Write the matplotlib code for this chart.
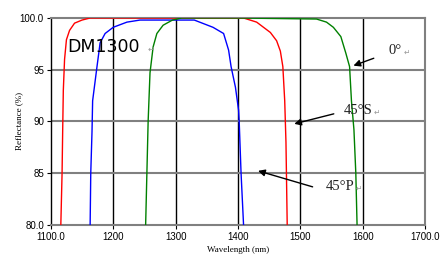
import matplotlib
matplotlib.use("Agg")
import matplotlib.pyplot as plt

# 0 deg (green)
wl_0 = [1252, 1254, 1256, 1259, 1264, 1270, 1280, 1295, 1310, 1400, 1526,
        1542, 1553, 1565, 1573, 1579, 1582, 1586, 1589, 1591]
r_0 = [80, 85, 90, 94.7, 97.2, 98.5, 99.3, 99.8, 100, 100, 99.9,
       99.6, 99.1, 98.2, 96.6, 95.3, 92, 89.2, 85, 80]

# 45 deg S (red)
wl_s = [1116, 1118, 1119, 1120, 1122, 1125, 1130, 1138, 1150, 1163, 1300,
        1409, 1430, 1452, 1462, 1468, 1472, 1475, 1477, 1479]
r_s = [80, 85, 89.2, 93, 96, 97.9, 98.8, 99.5, 99.8, 100, 100,
       100, 99.6, 98.6, 97.8, 96.8, 95.3, 92, 88, 80]

# 45 deg P (blue)
wl_p = [1163, 1164, 1166, 1167, 1174, 1179, 1187, 1200, 1222, 1243, 1330,
        1360, 1377, 1385, 1389, 1396, 1401, 1402, 1405, 1409]
r_p = [80, 85, 89, 92, 95.3, 97.6, 98.5, 99.1, 99.6, 99.8, 99.8,
       99.1, 98.5, 96.9, 95.3, 93.3, 91.1, 90, 85, 80]

xticks = [1100, 1200, 1300, 1400, 1500, 1600, 1700]
xlabels = ["1100.0", "1200", "1300", "1400", "1500", "1600", "1700.0"]
yticks = [80, 85, 90, 95, 100]
ylabels = ["80.0", "85", "90", "95", "100.0"]

fig = plt.figure(figsize=(4.46, 2.57), dpi=100)
ax = fig.add_axes([0.114, 0.125, 0.839, 0.805])

for x in xticks[1:-1]:
    ax.axvline(x, color="black", lw=1, zorder=1)
for y in yticks[1:-1]:
    ax.axhline(y, color="#808080", lw=1.5, zorder=1)

ax.plot(wl_s, r_s, color="red", lw=1, zorder=3)
ax.plot(wl_p, r_p, color="blue", lw=1, zorder=3)
ax.plot(wl_0, r_0, color="green", lw=1, zorder=3)

ax.set_xlim(1100, 1700)
ax.set_ylim(80, 100)
ax.set_xticks(xticks)
ax.set_xticklabels(xlabels, family="Liberation Sans", fontsize=7)
ax.set_yticks(yticks)
ax.set_yticklabels(ylabels, family="Liberation Sans", fontsize=7)
ax.tick_params(length=3, width=0.8, color="black", pad=2)

for s in ["top", "right", "bottom"]:
    ax.spines[s].set_color("#808080")
    ax.spines[s].set_linewidth(1.5)
ax.spines["left"].set_color("black")
ax.spines["left"].set_linewidth(1)

ax.set_xlabel("Wavelength (nm)", family="Liberation Serif", fontsize=6.5, labelpad=3)
ax.set_ylabel("Reflectance (%)", family="Liberation Serif", fontsize=6.5)
ax.yaxis.set_label_coords(-0.075, 0.5)

ax.text(1127, 97.2, "DM1300", fontsize=12.5, va="center", ha="left")
ax.text(1255, 97.0, "\u21b5", fontsize=6, color="#999999", va="center")

arrow = dict(arrowstyle="-|>", color="black", lw=1, mutation_scale=10)
notes = [("0°", (1581, 95.3), (1622, 96.2), (1642, 96.9)),
         ("45°S", (1486, 89.7), (1558, 90.8), (1569, 91.1)),
         ("45°P", (1428, 85.3), (1524, 83.6), (1540, 83.7))]
for label, tip, tail, pos in notes:
    ax.annotate("", xy=tip, xytext=tail, arrowprops=arrow, zorder=4)
    t = ax.text(pos[0], pos[1], label, family="Liberation Serif", fontsize=10.5,
                va="center", ha="left", color="#222222")
    fig.canvas.draw()
    bb = t.get_window_extent().transformed(ax.transData.inverted())
    ax.text(bb.x1 + 2, pos[1] - 0.2, "\u21b5", fontsize=5.5, color="#999999", va="center")

fig.savefig("out.png", dpi=100)
